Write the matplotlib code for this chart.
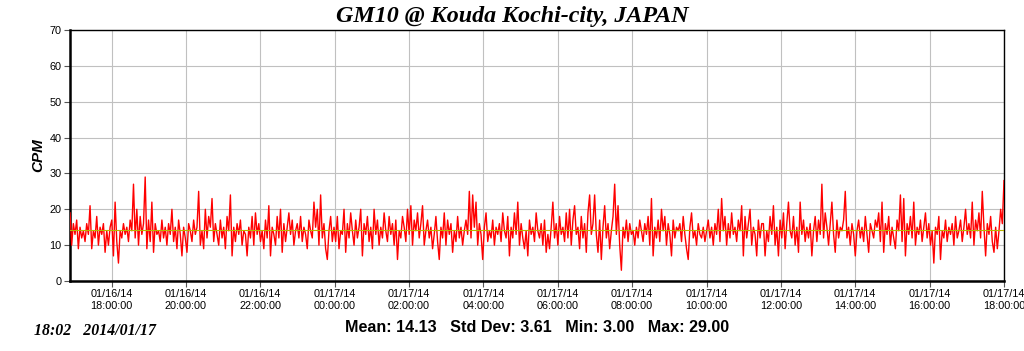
import numpy as np
import pandas as pd
import matplotlib
matplotlib.use('Agg')
from matplotlib import pyplot as plt
import matplotlib.dates as mdates

title = 'GM10 @ Kouda Kochi-city, JAPAN'
stamp = '18:02   2014/01/17'
stats = 'Mean: 14.13   Std Dev: 3.61   Min: 3.00   Max: 29.00'
mean_cpm = 14.13

# CPM readings (left to right)
cpm_a = [19, 10, 16, 13, 17, 9, 15, 12, 14, 11, 16, 13, 21, 9, 14, 12, 18, 10, 15, 13, 16, 8, 14, 10, 15, 17, 7, 22,
         11, 5, 14, 12, 16, 13, 15, 11, 17, 14, 27, 12, 20, 10, 18, 13, 16, 29, 9, 17, 11, 22, 8, 16, 13]
cpm_b = [14, 11, 17, 12, 15, 10, 16, 13, 20, 11, 15, 9, 17, 13, 7, 15, 12, 8, 16, 14, 11, 17, 13, 15, 25, 10, 14, 9,
         20, 12, 18, 15, 23, 11, 16, 13, 10, 17, 12, 15, 9, 18, 14, 24, 7, 15, 11, 16, 13, 17, 10, 14]
cpm_c = [13, 7, 15, 12, 18, 10, 19, 13, 16, 11, 14, 9, 17, 12, 21, 7, 15, 13, 10, 18, 12, 20, 8, 16, 11, 15, 19, 13,
         17, 10, 14, 16, 12, 18, 11, 15, 13, 9, 17, 14, 12, 22, 15, 20, 10, 24, 12, 16, 9, 6, 14, 18, 11]
cpm_d = [15, 11, 18, 9, 14, 13, 20, 8, 16, 12, 19, 14, 10, 17, 12, 15, 20, 7, 16, 13, 18, 11, 15, 9, 20, 13, 17, 10,
         15, 12, 19, 14, 11, 18, 13, 16, 10, 17, 6, 14, 12, 18, 15, 11, 20, 13, 21, 10, 17, 14, 19, 12]
cpm_e = [16, 21, 10, 14, 17, 12, 15, 9, 13, 18, 11, 6, 15, 12, 19, 10, 17, 13, 16, 8, 14, 11, 18, 12, 15, 10, 14, 17,
         13, 25, 12, 24, 15, 22, 10, 16, 13, 6, 15, 19, 11, 14, 12, 17, 10, 15, 13, 16, 11, 19, 14, 12]
cpm_f = [18, 7, 15, 12, 19, 13, 22, 10, 16, 12, 9, 14, 7, 17, 13, 15, 11, 19, 14, 12, 16, 10, 17, 8, 13, 9, 15, 22,
         12, 16, 10, 18, 13, 15, 11, 19, 12, 20, 10, 17, 21, 13, 15, 9, 18, 12, 16, 8, 19, 24, 13, 16]
cpm_g = [24, 13, 8, 17, 6, 15, 21, 12, 16, 9, 14, 18, 27, 13, 21, 10, 3, 15, 12, 17, 11, 16, 13, 14, 10, 15, 12, 17,
         14, 11, 16, 13, 18, 10, 23, 7, 15, 12, 17, 11, 20, 14, 18, 10, 16, 13, 7, 17, 12, 15, 14]
cpm_h = [16, 11, 18, 13, 9, 6, 15, 19, 12, 14, 10, 16, 13, 12, 15, 11, 14, 17, 12, 15, 10, 16, 13, 20, 11, 23, 14, 18,
         10, 16, 12, 19, 13, 15, 11, 17, 14, 21, 7, 18, 12, 16, 20, 10, 15, 13, 7, 17, 12, 16]
cpm_i = [16, 7, 14, 11, 18, 13, 21, 10, 15, 7, 17, 12, 19, 9, 16, 22, 14, 12, 18, 10, 15, 8, 22, 13, 17, 11, 15, 12,
         16, 7, 14, 18, 11, 17, 13, 27, 12, 19, 15, 10, 16, 22, 13, 8, 17, 12, 15, 14]
cpm_j = [17, 25, 12, 15, 10, 16, 13, 7, 14, 17, 12, 15, 11, 18, 13, 8, 16, 14, 12, 17, 15, 19, 11, 22, 8, 16, 13, 18,
         10, 15, 12, 9, 17, 14, 24, 11, 23, 7, 16, 13, 18, 12, 22, 10, 15, 13, 17, 11]
cpm_k = [15, 19, 12, 16, 10, 14, 5, 15, 13, 18, 6, 14, 12, 17, 11, 15, 13, 16, 10, 18, 12, 14, 17, 11, 15, 20, 13, 16,
         12, 22, 10, 17, 14, 19, 12, 25, 15, 7, 16, 13, 18, 11, 8, 15, 9, 14, 20, 16, 28]

cpm = cpm_a + cpm_b + cpm_c + cpm_d + cpm_e + cpm_f + cpm_g + cpm_h + cpm_i + cpm_j + cpm_k

t_start = pd.Timestamp('2014-01-16 16:53')
t_end = pd.Timestamp('2014-01-17 18:00')
times = pd.date_range(t_start, t_end, periods=len(cpm))

fig = plt.figure(figsize=(10.24, 3.51), dpi=100)
ax = fig.add_axes([70 / 1024, 70 / 351, 934 / 1024, 251 / 351])

ax.plot(times, cpm, color='#ff0000', lw=1.0, zorder=3)
ax.axhline(mean_cpm, color='#b8b400', lw=0.8, zorder=4)

ax.set_xlim(t_start, t_end)
ax.set_ylim(0, 70)
ax.set_yticks(range(0, 71, 10))
ax.xaxis.set_major_locator(mdates.HourLocator(byhour=range(0, 24, 2)))
ax.xaxis.set_major_formatter(mdates.DateFormatter('%m/%d/%y\n%H:%M:%S'))
ax.grid(True, color='#c0c0c0', lw=0.8, zorder=0)

for lab in ax.get_xticklabels() + ax.get_yticklabels():
    lab.set_family('Liberation Sans')
    lab.set_fontsize(7.8)
ax.tick_params(axis='both', length=4, width=0.8, color='#555555', pad=2)

for s in ax.spines.values():
    s.set_color('black')
    s.set_linewidth(1.0)
ax.spines['left'].set_linewidth(1.8)
ax.spines['bottom'].set_linewidth(1.8)

ax.set_ylabel('CPM', family='Liberation Sans', fontsize=11, fontweight='bold', style='italic', labelpad=3)

fig.text(0.5, 0.952, title, ha='center', va='center', family='Liberation Serif',
         fontsize=17.3, fontweight='bold', style='italic')
fig.text(537 / 1024, 1 - 327 / 351, stats, ha='center', va='center', family='Liberation Sans',
         fontsize=11.6, fontweight='bold')
fig.text(34 / 1024, 1 - 331 / 351, stamp, ha='left', va='center', family='Liberation Serif',
         fontsize=11.4, fontweight='bold', style='italic')

fig.savefig('out.png', dpi=100)
plt.close(fig)
